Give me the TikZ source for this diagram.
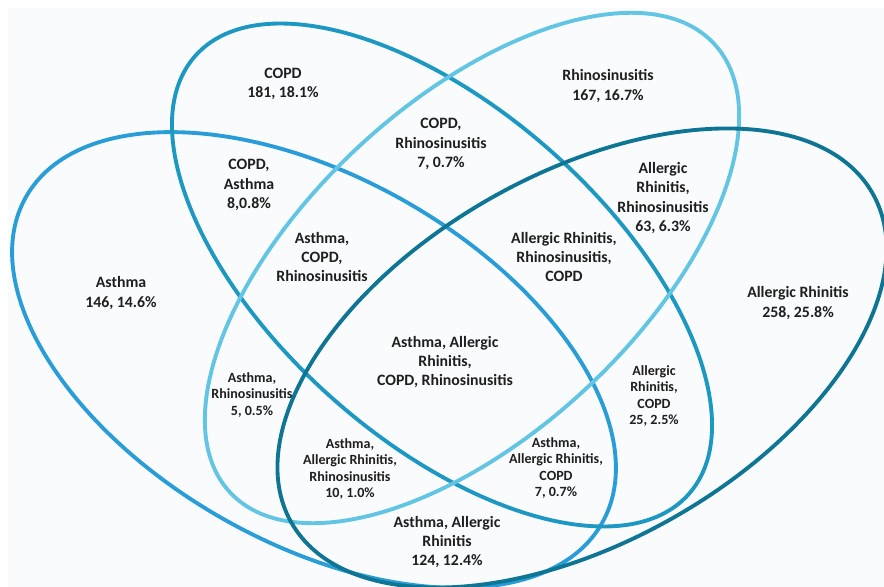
\documentclass[tikz,border=0pt]{standalone}
\usepackage{fontspec}
\setmainfont{Carlito}
\definecolor{asthmablue}{RGB}{41,157,215}
\definecolor{copdblue}{RGB}{28,152,194}
\definecolor{rhinoblue}{RGB}{98,197,228}
\definecolor{arteal}{RGB}{14,118,148}
\definecolor{bgtint}{RGB}{250,251,253}

\begin{document}
\begin{tikzpicture}[x=0.02cm,y=-0.02cm,
  every node/.style={font=\bfseries\fontsize{9}{11}\selectfont,align=center,text=black!88},
  small/.style={font=\bfseries\fontsize{8}{9.4}\selectfont},
  set/.style={line width=2.2pt}]
\useasboundingbox (0,0) rectangle (884,587);
\fill[bgtint] (8,8) rectangle (884,587);
% the four sets
\draw[set,asthmablue,rotate around={-29.5:(314,360)}] (314,360) ellipse [x radius=331,y radius=183];
\draw[set,copdblue,rotate around={-41.6:(442,275)}] (442,275) ellipse [x radius=330,y radius=165];
\draw[set,rhinoblue,rotate around={42.8:(472,268)}] (472,268) ellipse [x radius=330,y radius=166];
\draw[set,arteal,rotate around={29.5:(582,358)}] (582,358) ellipse [x radius=334,y radius=184];
% single sets
\node (copd) at (283,84) {COPD\\181, 18.1\%};
\node (rhino) at (608,86) {Rhinosinusitis\\167, 16.7\%};
\node (asth) at (121,293) {Asthma\\146, 14.6\%};
\node (ar) at (798,303) {Allergic Rhinitis\\258, 25.8\%};
% pairs
\node (copdrhino) at (441,144) {COPD,\\Rhinosinusitis\\7, 0.7\%};
\node (copdasth) at (249,185) {COPD,\\Asthma\\8,0.8\%};
\node (arrhino) at (663,198) {Allergic\\Rhinitis,\\Rhinosinusitis\\63, 6.3\%};
\node (asthar) at (447,542) {Asthma, Allergic\\Rhinitis\\124, 12.4\%};
\node[small] (asthrhino) at (252,395) {Asthma,\\Rhinosinusitis\\5, 0.5\%};
\node[small] (arcopd) at (654,396) {Allergic\\Rhinitis,\\COPD\\25, 2.5\%};
% triples
\node (asthcopdrhino) at (322,257) {Asthma,\\COPD,\\Rhinosinusitis};
\node (arrhinocopd) at (564,257) {Allergic Rhinitis,\\Rhinosinusitis,\\COPD};
\node[small] (astharrhino) at (350,469) {Asthma,\\Allergic Rhinitis,\\Rhinosinusitis\\10, 1.0\%};
\node[small] (astharcopd) at (556,468) {Asthma,\\Allergic Rhinitis,\\COPD\\7, 0.7\%};
% all four
\node (all) at (445,362) {Asthma, Allergic\\Rhinitis,\\COPD, Rhinosinusitis};
\end{tikzpicture}
\end{document}
